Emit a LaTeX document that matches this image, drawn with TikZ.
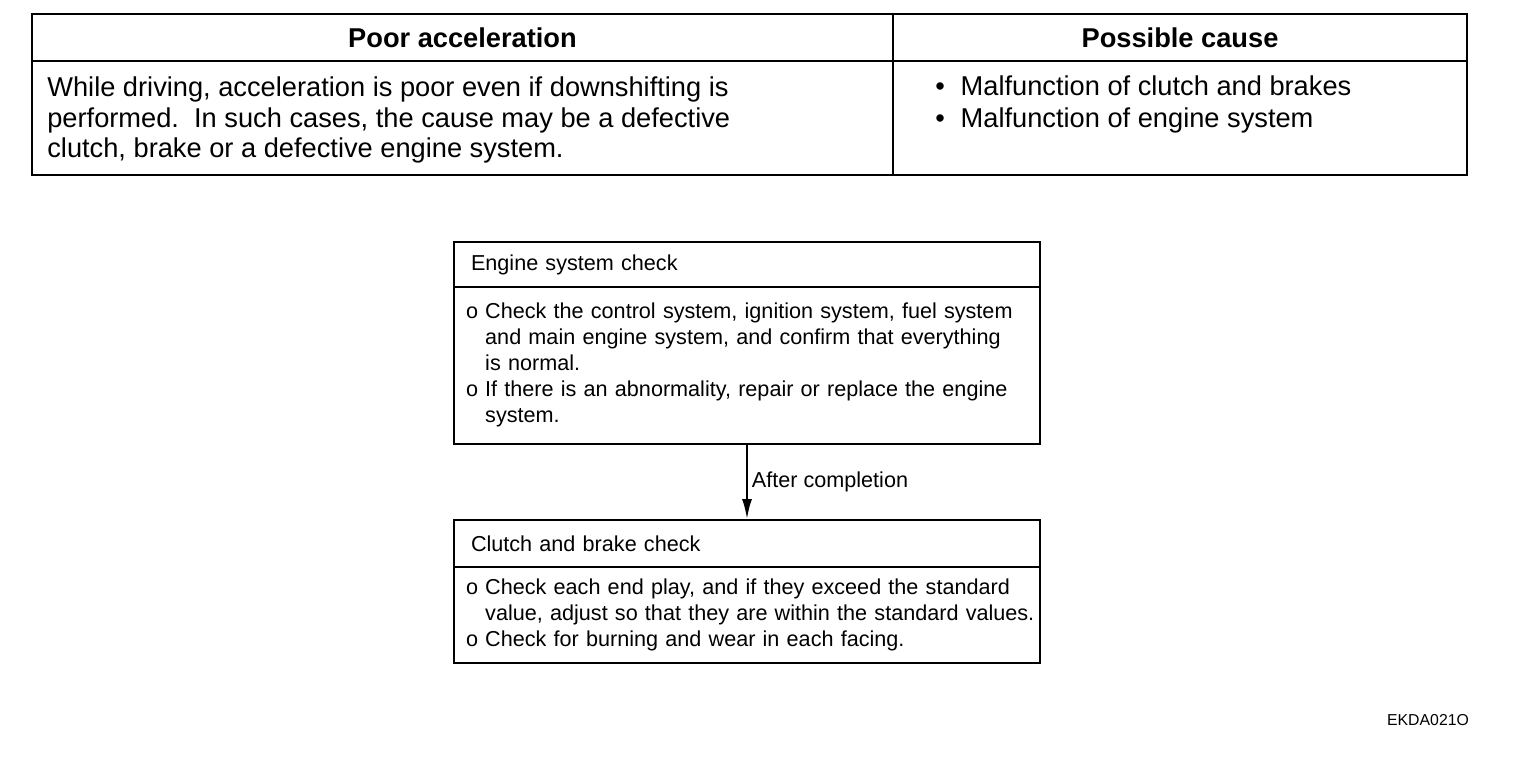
\documentclass[tikz,border=0pt]{standalone}
\usepackage{fontspec}
\setmainfont{Liberation Sans}
\usetikzlibrary{arrows.meta,positioning}

\tikzset{
  cell/.style={draw, line width=1.1pt, outer sep=0pt, inner sep=0pt},
  boxpart/.style={draw, line width=1.5pt, outer sep=0pt, align=left,
    font=\fontsize{12.3}{14.8}\selectfont},
}

\begin{document}
\begin{tikzpicture}[every node/.style={font=\fontsize{15.5}{17.6}\selectfont}]
  \useasboundingbox (0,0) rectangle (30.4,-15.12);

  %% Top: symptom table
  \node[cell, anchor=north west, minimum width=17.22cm, minimum height=0.94cm,
    font=\fontsize{15.5}{17.6}\selectfont\bfseries] (symhead) at (0.64,-0.28) {Poor acceleration};
  \node[cell, right=0pt of symhead, minimum width=11.48cm, minimum height=0.94cm,
    font=\fontsize{15.5}{17.6}\selectfont\bfseries] (causehead) {Possible cause};
  \node[cell, below=0pt of symhead, minimum width=17.22cm, minimum height=2.28cm] (symbody) {};
  \node[cell, below=0pt of causehead, minimum width=11.48cm, minimum height=2.28cm] (causebody) {};

  \node[anchor=north west, inner sep=0pt, align=left] (symtxt)
    at ([xshift=0.3cm, yshift=-0.3cm]symbody.north west)
    {While driving, acceleration is poor even if downshifting is\\
     performed.\ \ In such cases, the cause may be a defective\\
     clutch, brake or a defective engine system.};
  \node[anchor=north west, inner sep=0pt] (causetxt)
    at ([xshift=0.84cm, yshift=-0.24cm]causebody.north west)
    {\begin{tabular}{@{}l@{\hspace{9pt}}l@{}}
       \textbullet & Malfunction of clutch and brakes\\[1pt]
       \textbullet & Malfunction of engine system
     \end{tabular}};

  %% Middle: check flow
  \node[boxpart, anchor=north west, minimum height=0.9cm, text width=11.04cm,
    inner xsep=0.34cm] (engtitle) at (9.08,-4.84) {Engine system check};
  \node[boxpart, below=0pt of engtitle, minimum height=3.14cm, text width=11.24cm,
    inner xsep=0.24cm] (engbody)
    {\begin{tabular}{@{}l@{\ }l@{}}
       o & Check the control system, ignition system, fuel system\\
         & and main engine system, and confirm that everything\\
         & is normal.\\
       o & If there is an abnormality, repair or replace the engine\\
         & system.
     \end{tabular}};

  \node[boxpart, below=1.52cm of engbody, minimum height=0.94cm, text width=11.04cm,
    inner xsep=0.34cm] (clutitle) {Clutch and brake check};
  \node[boxpart, below=0pt of clutitle, minimum height=1.92cm, text width=11.24cm,
    inner xsep=0.24cm] (clubody)
    {\begin{tabular}{@{}l@{\ }l@{}}
       o & Check each end play, and if they exceed the standard\\
         & value, adjust so that they are within the standard values.\\
       o & Check for burning and wear in each facing.
     \end{tabular}};

  \draw[-{Latex[length=0.42cm, width=0.2cm]}, line width=1.6pt] (engbody) -- (clutitle)
    node[midway, right, inner xsep=2pt, font=\fontsize{12.3}{14.8}\selectfont] (donelbl) {After completion};

  %% Figure code
  \node[font=\fontsize{9}{10}\selectfont] (figcode) at (28.56,-14.4) {EKDA021O};

\end{tikzpicture}
\end{document}
